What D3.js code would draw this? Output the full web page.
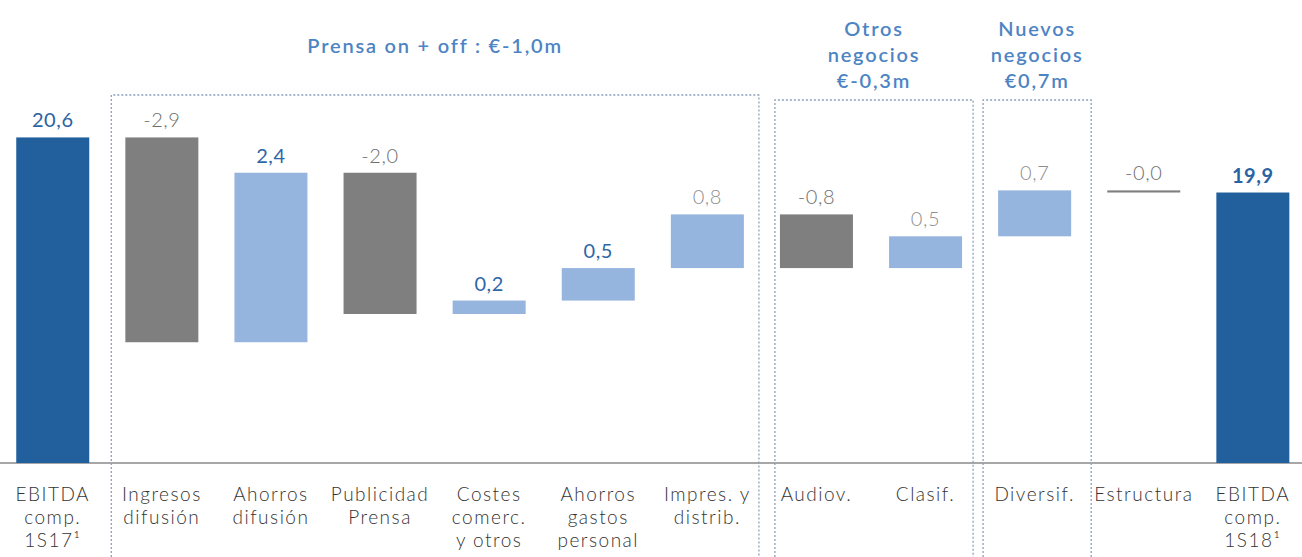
<!DOCTYPE html>
<html>
<head>
<meta charset="utf-8">
<script src="https://cdn.jsdelivr.net/npm/d3@7"></script>
<style>
  body { margin: 0; background: #fff; }
  svg { display: block; font-family: Lato, "Open Sans", sans-serif; }
</style>
</head>
<body>
<svg id="chart" width="1302" height="557"></svg>
<script>
// categories (one entry per bar, lines of the tick label)
var categories = [
  ["EBITDA", "comp.", "1S17¹"],
  ["Ingresos", "difusión"],
  ["Ahorros", "difusión"],
  ["Publicidad", "Prensa"],
  ["Costes", "comerc.", "y otros"],
  ["Ahorros", "gastos", "personal"],
  ["Impres. y", "distrib."],
  ["Audiov."],
  ["Clasif."],
  ["Diversif."],
  ["Estructura"],
  ["EBITDA", "comp.", "1S18¹"]
];

// EBITDA 1S17 and the bridge steps (€m)
var startValue = 20.64;
var deltas = [-2.90, 2.40, -2.00, 0.19, 0.46, 0.76, -0.76, 0.45, 0.65, -0.03];

// dotted group boxes: first / last category index and title lines
var groupFirst = [1, 7, 9];
var groupLast = [6, 8, 9];
var groupTitles = [
  ["Prensa on + off : €-1,0m"],
  ["Otros", "negocios", "€-0,3m"],
  ["Nuevos", "negocios", "€0,7m"]
];

var W = 1302, H = 557, baseY = 463;
var svg = d3.select("#chart");

// build waterfall steps
var steps = [];
var run = startValue;
steps.push({i: 0, type: "total", from: 0, to: startValue, v: startValue});
deltas.forEach(function(d, k){
  steps.push({i: k + 1, type: d < 0 ? "down" : "up", from: run, to: run + d, v: d});
  run += d;
});
steps.push({i: categories.length - 1, type: "total", from: 0, to: run, v: run});

var x = d3.scalePoint()
  .domain(d3.range(categories.length))
  .range([-1.8, 1307.4])
  .padding(0.5);
var step = x.step();
var barW = 73;

// value axis does not start at zero (broken axis in the original)
var y = d3.scaleLinear().domain([16.03, 21]).range([baseY, 112]);

var fmt = d3.formatLocale({decimal: ",", thousands: ".", grouping: [3], currency: ["€", ""]}).format(".1f");
function label(v){ return (v < 0 ? "-" : "") + fmt(Math.abs(v)); }

var colors = {total: "#22609d", up: "#95b4de", down: "#7f7f7f"};

// baseline
svg.append("line")
  .attr("x1", 0).attr("x2", W)
  .attr("y1", baseY).attr("y2", baseY)
  .attr("stroke", "#8a8a8a").attr("stroke-width", 1.5);

// group boxes
var boxPad = [[4, -3], [13, -7], [3, 2]];
groupFirst.forEach(function(f, g){
  var l = groupLast[g];
  var left = x(f) - step / 2 + boxPad[g][0];
  var right = x(l) + step / 2 + boxPad[g][1];
  var top = g == 0 ? 95 : 100;
  svg.append("path")
    .attr("d", "M" + left + "," + H + "V" + top + "H" + right + "V" + H)
    .attr("fill", "none")
    .attr("stroke", "#8d9fbb")
    .attr("stroke-width", 1.3)
    .attr("stroke-dasharray", "2,2");
  var lines = groupTitles[g];
  var t = svg.append("text")
    .attr("x", (left + right) / 2)
    .attr("text-anchor", "middle")
    .attr("fill", "#4d84c4")
    .attr("font-size", 20)
    .attr("font-weight", 600)
    .attr("letter-spacing", 1.8);
  lines.forEach(function(s, j){
    var yy = lines.length == 1 ? 53 : 36 + j * 26;
    t.append("tspan").attr("x", (left + right) / 2).attr("y", yy).text(s);
  });
});

// bars
svg.selectAll("rect.bar")
  .data(steps)
  .enter()
  .append("rect")
  .attr("class", "bar")
  .attr("x", function(d){ return x(d.i) - barW / 2; })
  .attr("width", barW)
  .attr("y", function(d){
    if (d.type == "total") return y(d.to);
    return Math.min(y(d.from), y(d.to));
  })
  .attr("height", function(d){
    if (d.type == "total") return baseY - y(d.to);
    return Math.max(Math.abs(y(d.from) - y(d.to)), 1.5);
  })
  .attr("fill", function(d){ return colors[d.type]; });

// value labels
svg.selectAll("text.val")
  .data(steps)
  .enter()
  .append("text")
  .attr("class", "val")
  .attr("x", function(d){ return x(d.i); })
  .attr("y", function(d){ return Math.min(y(d.from), y(d.to)) - 10; })
  .attr("text-anchor", "middle")
  .attr("font-size", 20)
  .attr("letter-spacing", 0.6)
  .attr("font-weight", function(d){
    if (d.i == categories.length - 1) return 700;
    return d.type == "down" || d.i >= 6 ? 300 : 400;
  })
  .attr("fill", function(d){
    if (d.type == "total") return "#2a63a3";
    if (d.type == "down") return "#6f6f6f";
    return d.i >= 6 ? "#8f8f8f" : "#2f66a8";
  })
  .text(function(d){ return label(d.v); });

// category labels
var cat = svg.selectAll("text.cat")
  .data(categories)
  .enter()
  .append("text")
  .attr("class", "cat")
  .attr("text-anchor", "middle")
  .attr("fill", "#333")
  .attr("font-size", 19)
  .attr("font-weight", 300)
  .attr("letter-spacing", 1.5);
cat.each(function(lines, i){
  var t = d3.select(this);
  lines.forEach(function(s, j){
    t.append("tspan").attr("x", x(i)).attr("y", 501 + j * 23).text(s);
  });
});
</script>
</body>
</html>
